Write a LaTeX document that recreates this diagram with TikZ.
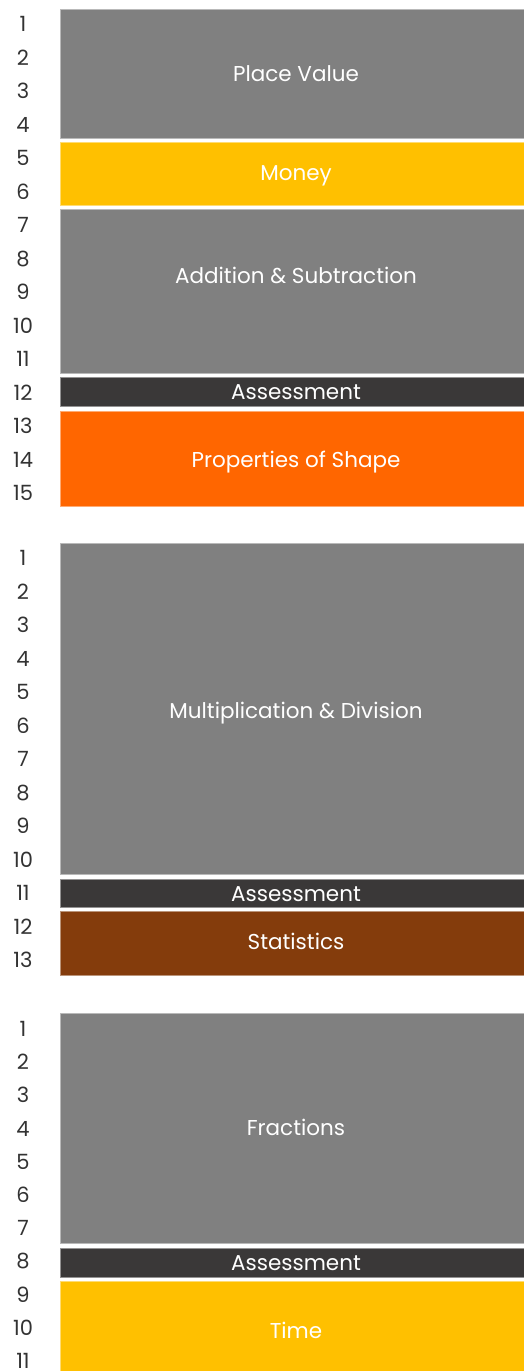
\documentclass[tikz,border=0pt]{standalone}
\usepackage{fontspec}
\setmainfont{Poppins}
\definecolor{cgray}{HTML}{808080}
\definecolor{cyellow}{HTML}{FFC000}
\definecolor{cdark}{HTML}{3A3838}
\definecolor{corange}{HTML}{FF6600}
\definecolor{cbrown}{HTML}{843C0C}
\definecolor{cnum}{HTML}{333333}
\begin{document}
\begin{tikzpicture}[x=1pt,y=-1pt,
  unitbox/.style={fill=#1, draw=#1!55!white, line width=0.8pt},
  boxlabel/.style={text=white, font=\fontsize{21.5}{24}\selectfont, inner sep=0pt, anchor=center, text height=0.7em, text depth=0pt, yshift=-4pt},
  numlabel/.style={text=cnum, font=\fontsize{21}{24}\selectfont, inner sep=0pt, anchor=center, text height=0.7em, text depth=0pt, yshift=-4pt}]
\useasboundingbox (0,0) rectangle (524,1371);
\clip (0,0) rectangle (524,1371);
\fill[white] (0,0) rectangle (524,1371);
% block 1
\draw[unitbox=cgray]   (60,9)   rectangle (530,138);
\draw[unitbox=cyellow] (60,142) rectangle (530,205);
\draw[unitbox=cgray]   (60,209) rectangle (530,373);
\draw[unitbox=cdark]   (60,377) rectangle (530,406);
\draw[unitbox=corange] (60,411) rectangle (530,506);
\node[boxlabel] (pv) at (296,74) {Place Value};
\node[boxlabel] (mo) at (296,173) {Money};
\node[boxlabel] (as) at (296,276) {Addition \& Subtraction};
\node[boxlabel] (a1) at (296,392) {Assessment};
\node[boxlabel] (ps) at (296,460) {Properties of Shape};
\foreach \i in {1,...,15} {\node[numlabel] (n1-\i) at (23,{24+(\i-1)*33.5}) {\i};}
% block 2
\draw[unitbox=cgray]   (60,543) rectangle (530,874);
\draw[unitbox=cdark]   (60,879) rectangle (530,907);
\draw[unitbox=cbrown]  (60,911) rectangle (530,975);
\node[boxlabel] (md) at (296,711) {Multiplication \& Division};
\node[boxlabel] (a2) at (296,894) {Assessment};
\node[boxlabel] (st) at (296,942) {Statistics};
\foreach \i in {1,...,13} {\node[numlabel] (n2-\i) at (23,{558+(\i-1)*33.5}) {\i};}
% block 3
\draw[unitbox=cgray]   (60,1013) rectangle (530,1243);
\draw[unitbox=cdark]   (60,1248) rectangle (530,1277);
\draw[unitbox=cyellow] (60,1281) rectangle (530,1390);
\node[boxlabel] (fr) at (296,1128) {Fractions};
\node[boxlabel] (a3) at (296,1263) {Assessment};
\node[boxlabel] (ti) at (296,1331) {Time};
\foreach \i in {1,...,11} {\node[numlabel] (n3-\i) at (23,{1029+(\i-1)*33.2}) {\i};}
\end{tikzpicture}
\end{document}
